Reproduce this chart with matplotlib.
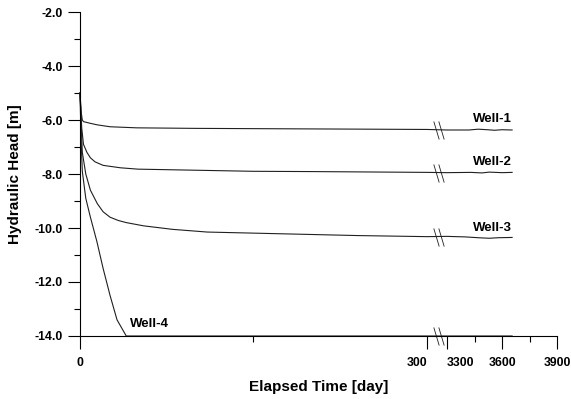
import numpy as np
import matplotlib
matplotlib.use('Agg')
import matplotlib.pyplot as plt
from matplotlib.ticker import FixedLocator

plt.rcParams['font.family'] = ['Liberation Sans', 'DejaVu Sans']
plt.rcParams['font.weight'] = 'bold'

# values (days, head in m)
t_w1 = [0, 1, 2, 3, 8.6, 15, 26, 49, 100, 150, 200, 250, 300,
        3300, 3420, 3470, 3520, 3560, 3600, 3655]
h_w1 = [-5.0, -5.7, -6.0, -6.06, -6.12, -6.18, -6.25, -6.29, -6.31, -6.32, -6.33, -6.34, -6.35,
        -6.37, -6.37, -6.34, -6.36, -6.38, -6.36, -6.37]

t_w2 = [0, 1.5, 3, 6, 9, 13, 20, 35, 50, 100, 150, 200, 300,
        3300, 3430, 3490, 3530, 3600, 3655]
h_w2 = [-5.0, -6.3, -6.9, -7.2, -7.4, -7.55, -7.68, -7.77, -7.82, -7.86, -7.9, -7.91, -7.94,
        -7.95, -7.94, -7.96, -7.93, -7.95, -7.94]

t_w3 = [0, 2, 5, 9, 15, 20, 26, 33, 40, 55, 80, 110, 180, 240, 300,
        3300, 3400, 3470, 3530, 3580, 3655]
h_w3 = [-5.0, -7.2, -8.0, -8.6, -9.1, -9.4, -9.6, -9.72, -9.8, -9.92, -10.05, -10.15, -10.22, -10.28, -10.32,
        -10.31, -10.33, -10.36, -10.38, -10.36, -10.35]

t_w4 = [0, 1, 2, 5, 9, 14.6, 20, 26, 32, 40, 300, 3300, 3655]
h_w4 = [-5.0, -6.8, -7.9, -8.9, -9.6, -10.5, -11.5, -12.5, -13.4, -14.0, -14.0, -14.0, -14.0]

wells = ['Well-1', 'Well-2', 'Well-3', 'Well-4']
series = [(t_w1, h_w1), (t_w2, h_w2), (t_w3, h_w3), (t_w4, h_w4)]

x_major = [0, 300, 3300, 3600, 3900]
x_minor = [150, 3450, 3750]

# broken time axis: 0-300 gets most of the width, 3300-3900 is squeezed
XP = [-1e4, 0, 300, 3300, 3900, 1e5]
FP = [-1e4, 0, 300, 317.3, 412.4, 412.4 + (1e5 - 3900) * 0.1585]


def fwd(t):
    return np.interp(t, XP, FP)


def inv(m):
    return np.interp(m, FP, XP)


fig = plt.figure(figsize=(5.71, 3.99), dpi=100)
ax = fig.add_axes([0.1401, 0.1579, 0.8354, 0.812])
ax.set_xscale('function', functions=(fwd, inv))

for (t, h) in series:
    ax.plot(t, h, color='#202020', lw=0.8, clip_on=False)

ax.set_xlim(0, 3900)
ax.set_ylim(-14, -2)
ax.xaxis.set_major_locator(FixedLocator(x_major))
ax.xaxis.set_minor_locator(FixedLocator(x_minor))
ax.set_xticklabels([str(v) for v in x_major])
ax.set_yticks(np.arange(-14, -1.9, 2))
ax.set_yticks(np.arange(-13, -2, 2), minor=True)
ax.set_yticklabels([f'{v:.1f}' for v in np.arange(-14, -1.9, 2)])

for side in ['top', 'right']:
    ax.spines[side].set_visible(False)
for side in ['left', 'bottom']:
    ax.spines[side].set_linewidth(0.8)
ax.tick_params(which='major', length=9, width=0.8, labelsize=8.8, pad=3.5)
ax.tick_params(which='minor', length=4, width=0.8)
ax.tick_params(axis='x', which='major', pad=6)

# 300 sits left of its tick, 3300 right of it, like the reference
xt = ax.get_xticklabels()
xt[1].set_horizontalalignment('right')
xt[2].set_horizontalalignment('left')

ax.set_xlabel('Elapsed Time [day]', fontsize=11, fontweight='bold', labelpad=8)
ax.set_ylabel('Hydraulic Head [m]', fontsize=11, fontweight='bold', labelpad=9)

# break marks (double backslash) on each line and on the axis
slash = [(-0.3, 1), (0.3, -1)]
for y in [-6.36, -7.945, -10.315, -14.0]:
    for m in [307.6, 311.8]:
        ax.plot([inv(m)], [y], marker=slash, markersize=13, mew=0.6,
                color='#202020', clip_on=False, ls='none')

# well labels
ax.text(3655, -5.98, 'Well-1', ha='right', va='center', fontsize=9.5, fontweight='bold')
ax.text(3655, -7.55, 'Well-2', ha='right', va='center', fontsize=9.5, fontweight='bold')
ax.text(3655, -10.0, 'Well-3', ha='right', va='center', fontsize=9.5, fontweight='bold')
ax.text(43, -13.55, 'Well-4', ha='left', va='center', fontsize=9.5, fontweight='bold')

fig.savefig('out.png', dpi=100)
